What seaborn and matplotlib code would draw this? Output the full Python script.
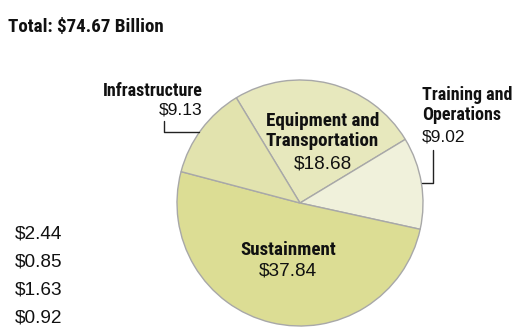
import matplotlib
matplotlib.use("Agg")
import matplotlib.pyplot as plt
import seaborn as sns

# Budget breakdown (billions of dollars)
categories = ["Equipment and\nTransportation", "Training and\nOperations", "Sustainment", "Infrastructure"]
values = [18.68, 9.02, 37.84, 9.13]
slice_colors = ["#e7e8bd", "#f0f1db", "#dcdd94", "#e2e3ae"]
total_label = "Total: $74.67 Billion"
side_values = ["$2.44", "$0.85", "$1.63", "$0.92"]

sns.set_theme(style="white")

head_font = ["Roboto Condensed", "Liberation Sans Narrow", "DejaVu Sans"]
num_font = ["Liberation Sans", "DejaVu Sans"]
ink = "#111111"

W, H = 519, 327
fig = plt.figure(figsize=(W / 100, H / 100), dpi=100)
ax = fig.add_axes([0, 0, 1, 1])


def Y(py):
    return H - py


ax.pie(values, colors=slice_colors, startangle=121.2, counterclock=False,
       center=(300, Y(203)), radius=123,
       wedgeprops=dict(edgecolor="#a8a8a8", linewidth=1.0))

# pie() resets the view, so fix the pixel-sized frame afterwards
ax.set_xlim(0, W)
ax.set_ylim(0, H)
ax.set_aspect("equal")
ax.axis("off")


def head(x, y, s, ha, size=13):
    ax.text(x, Y(y), s, family=head_font, fontweight="bold", fontsize=size,
            ha=ha, va="baseline", color=ink)


def num(x, y, s, ha, size=12.5):
    ax.text(x, Y(y), s, family=num_font, fontsize=size, ha=ha, va="baseline", color=ink)


# Title
head(8, 32, total_label, "left", 13.7)

# Infrastructure
head(203, 96.5, "Infrastructure", "right")
num(202.5, 115, f"${values[3]:.2f}", "right")
ax.plot([164, 164, 199], [Y(121), Y(132), Y(132)], color="#222222", lw=1)

# Equipment and Transportation
head(322.5, 125.7, "Equipment and", "center", 13.7)
head(322.5, 146.5, "Transportation", "center", 13.7)
num(323, 168, f"${values[0]:.2f}", "center", 13.7)

# Training and Operations
head(422.5, 100, "Training and", "left")
head(422.5, 120, "Operations", "left")
num(422, 141.5, f"${values[1]:.2f}", "left")
ax.plot([433, 433, 422], [Y(150), Y(183), Y(183)], color="#222222", lw=1)

# Sustainment
head(288.5, 255, "Sustainment", "center", 13.7)
num(288, 275.5, f"${values[2]:.2f}", "center", 13.7)

# Side figures
for i, s in enumerate(side_values):
    num(15, 238 + i * 28.3, s, "left", 13.7)

fig.savefig("out.png", dpi=100, facecolor="white")
